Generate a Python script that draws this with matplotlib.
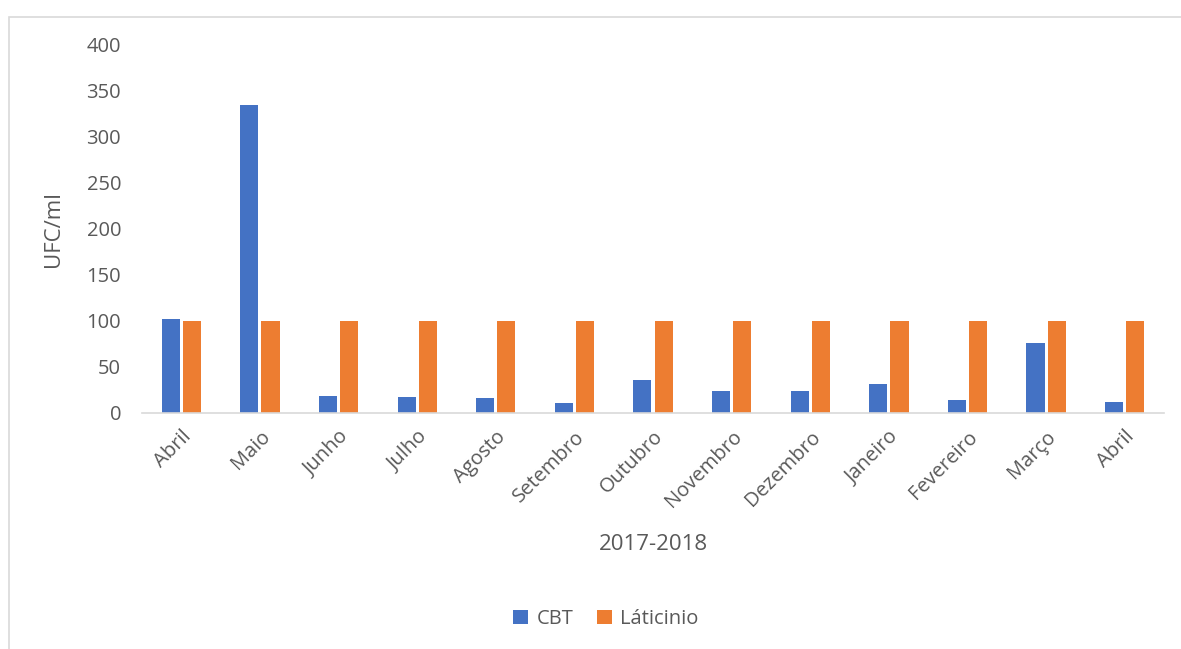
import numpy as np
import matplotlib.pyplot as plt
from matplotlib.patches import Rectangle

## Monthly values
months = ['Abril', 'Maio', 'Junho', 'Julho', 'Agosto', 'Setembro', 'Outubro',
          'Novembro', 'Dezembro', 'Janeiro', 'Fevereiro', 'Março', 'Abril']
cbt = [102, 335, 19, 17, 16, 10.5, 36, 24, 23.5, 31, 14, 76.5, 12.5]
laticinio = [100, 100, 100, 100, 100, 100, 100, 100, 100, 100, 100, 100, 100]
yticks = [0, 50, 100, 150, 200, 250, 300, 350, 400]

plt.rcParams['font.family'] = ['Open Sans', 'DejaVu Sans']
grey = '#595959'

fig = plt.figure(figsize=(11.81, 6.49), dpi=100)
ax = fig.add_axes([142/1181, 1-413/649, (1164-142)/1181, (413-45)/649])

x = np.arange(len(months))
w = 0.23
ax.bar(x - w/2 - 0.02, cbt, width=w, color='#4472c4', label='CBT')
ax.bar(x + w/2 + 0.02, laticinio, width=w, color='#ed7d31', label='Láticinio')

ax.set_xlim(-0.5, len(months) - 0.5)
ax.set_ylim(0, 400)
ax.set_yticks(yticks)
ax.set_xticks(x)
ax.set_xticklabels(months, rotation=45, ha='right', rotation_mode='anchor')
ax.tick_params(axis='both', length=0, labelsize=14.5, colors=grey)
ax.tick_params(axis='y', pad=15)
ax.tick_params(axis='x', pad=10)

for s in ['top', 'right', 'left']:
    ax.spines[s].set_visible(False)
ax.spines['bottom'].set_color('#d9d9d9')
ax.spines['bottom'].set_linewidth(1.2)

ax.set_ylabel('UFC/ml', fontsize=16, color=grey, labelpad=16)
ax.set_xlabel('2017-2018', fontsize=16, color=grey, labelpad=16)

fig.legend(loc='center', bbox_to_anchor=(606/1181, 1-619/649), ncol=2, frameon=False,
           fontsize=14.5, labelcolor=grey, handlelength=0.75, handleheight=0.75,
           columnspacing=1.2, handletextpad=0.4)

## Light grey chart frame
top = 1 - 16.5/649
fig.patches.append(Rectangle((8.5/1181, -0.1), 1.2, top + 0.1,
                             transform=fig.transFigure, fill=False,
                             edgecolor='#d9d9d9', linewidth=1.2))

plt.savefig('out.png', dpi=100)
